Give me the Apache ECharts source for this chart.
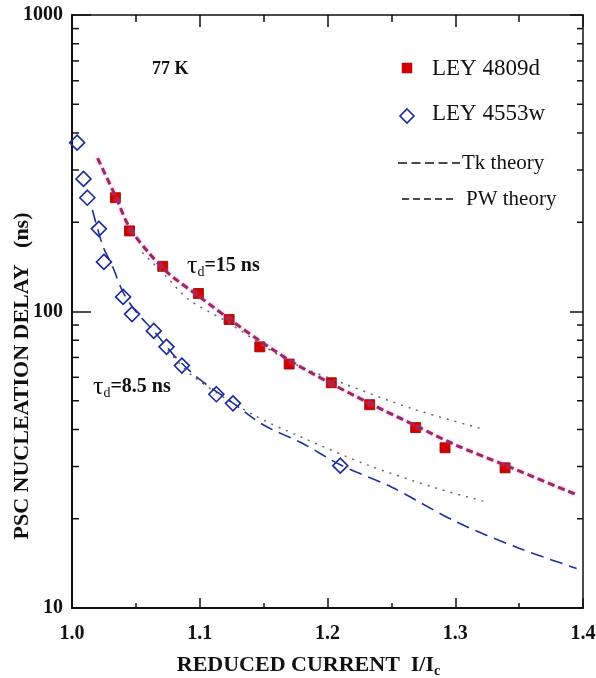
<!DOCTYPE html>
<html>
<head>
<meta charset="utf-8">
<script src="https://cdn.jsdelivr.net/npm/echarts@6/dist/echarts.min.js"></script>
<style>
  html, body { margin: 0; padding: 0; background: #fff; }
  #main { width: 596px; height: 678px; }
</style>
</head>
<body>
<div id="main"></div>
<script>
// measured points, LEY 4809d (filled squares)
var xRed = [1.034, 1.045, 1.071, 1.099, 1.123, 1.147, 1.170, 1.203, 1.233, 1.269, 1.292, 1.339];
var yRed = [242, 187, 142, 115, 94, 76, 66.5, 57.5, 48.5, 40.6, 34.7, 29.7];

// measured points, LEY 4553w (open diamonds)
var xBlue = [1.004, 1.009, 1.012, 1.021, 1.025, 1.040, 1.047, 1.064, 1.074, 1.086, 1.113, 1.126, 1.210];
var yBlue = [371, 280, 242, 190, 147, 112, 98, 86, 76, 65.7, 52.6, 49, 30.2];

// Tk theory curves
var tkRedX = [1.020, 1.034, 1.045, 1.060, 1.075, 1.100, 1.125, 1.150, 1.175, 1.200, 1.235, 1.270, 1.300, 1.340, 1.395];
var tkRedY = [329, 245, 192, 158, 135, 112, 93, 78, 66.5, 58, 48.5, 41, 35.5, 30.2, 24.1];
var tkBlueX = [1.016, 1.024, 1.032, 1.040, 1.050, 1.065, 1.080, 1.100, 1.125, 1.150, 1.180, 1.210, 1.250, 1.300, 1.350, 1.395];
var tkBlueY = [220, 167, 141, 116, 100, 85, 71, 59, 49.5, 41.4, 36, 30.4, 25.6, 19.6, 15.9, 13.6];

// PW theory curves
var pwRedX = [1.055, 1.074, 1.091, 1.120, 1.170, 1.212, 1.267, 1.322];
var pwRedY = [158, 131, 110, 93, 68, 57.3, 46.9, 40.1];
var pwBlueX = [1.075, 1.095, 1.142, 1.179, 1.231, 1.286, 1.326];
var pwBlueY = [74, 60.3, 44.8, 37.8, 30.4, 25.3, 22.7];

// log axis minor ticks
var minorY = [20, 30, 40, 50, 60, 70, 80, 90, 200, 300, 400, 500, 600, 700, 800, 900];

function pairs(xs, ys) {
    var out = [];
    for (var i = 0; i < xs.length; i++) out.push([xs[i], ys[i]]);
    return out;
}

var serif = '"Liberation Serif", "DejaVu Serif", serif';
var ink = '#111';

var option = {
    animation: false,
    backgroundColor: '#fff',
    grid: { left: 72, top: 15, right: 13, bottom: 70, containLabel: false, outerBoundsMode: 'none' },
    xAxis: [{
        type: 'value', min: 1.0, max: 1.4, interval: 0.1,
        name: '{a|REDUCED CURRENT  I/I}{b|c}',
        nameLocation: 'middle', nameGap: 44,
        nameTextStyle: {
            padding: [0, 38, 0, 0],
            rich: {
                a: { fontFamily: serif, fontWeight: 'bold', fontSize: 22, color: ink },
                b: { fontFamily: serif, fontWeight: 'bold', fontSize: 14, color: ink, padding: [12, 0, 0, 0] }
            }
        },
        axisLine: { lineStyle: { color: ink, width: 2 } },
        axisTick: { inside: true, length: 10, lineStyle: { color: ink, width: 1.5 } },
        minorTick: { show: true, splitNumber: 2, length: 5, lineStyle: { color: ink, width: 1.5 } },
        axisLabel: {
            margin: 16, fontFamily: serif, fontWeight: 'bold', fontSize: 20, color: ink,
            formatter: function (v) { return v.toFixed(1); }
        },
        splitLine: { show: false }
    }, {
        type: 'value', min: 1.0, max: 1.4, interval: 0.1, position: 'top',
        axisLine: { lineStyle: { color: ink, width: 1.5 } },
        axisTick: { inside: true, length: 12, lineStyle: { color: ink, width: 1.5 } },
        minorTick: { show: true, splitNumber: 2, length: 7, lineStyle: { color: ink, width: 1.5 } },
        axisLabel: { show: false },
        splitLine: { show: false }
    }],
    yAxis: [{
        type: 'log', logBase: 10, min: 10, max: 1000,
        axisLine: { show: true, lineStyle: { color: ink, width: 2 } },
        axisTick: { inside: true, length: 19, lineStyle: { color: ink, width: 1.5 } },
        axisLabel: {
            margin: 9, fontFamily: serif, fontWeight: 'bold', fontSize: 20, color: ink,
            formatter: function (v) { return String(Math.round(v)); }
        },
        splitLine: { show: false }
    }, {
        type: 'log', logBase: 10, min: 10, max: 1000, position: 'right',
        axisLine: { show: true, lineStyle: { color: ink, width: 1.5 } },
        axisTick: { inside: true, length: 13, lineStyle: { color: ink, width: 1.5 } },
        axisLabel: { show: false },
        splitLine: { show: false }
    }],
    series: [
        {
            type: 'custom',
            data: minorY.map(function (v) { return [1.0, v]; }),
            silent: true,
            renderItem: function (params, api) {
                var l = api.coord([1.0, api.value(1)]);
                var r = api.coord([1.4, api.value(1)]);
                var st = { stroke: ink, lineWidth: 1.5 };
                return {
                    type: 'group',
                    children: [
                        { type: 'line', shape: { x1: l[0], y1: l[1], x2: l[0] + 7, y2: l[1] }, style: st },
                        { type: 'line', shape: { x1: r[0] - 6, y1: r[1], x2: r[0], y2: r[1] }, style: st }
                    ]
                };
            }
        },
        {
            name: 'PW 4809d', type: 'line', data: pairs(pwRedX, pwRedY),
            smooth: 0.3, showSymbol: false,
            lineStyle: { color: '#666', width: 1.5, type: [2, 6] }
        },
        {
            name: 'PW 4553w', type: 'line', data: pairs(pwBlueX, pwBlueY),
            smooth: 0.3, showSymbol: false,
            lineStyle: { color: '#666', width: 1.5, type: [2, 6] }
        },
        {
            name: 'Tk 4809d', type: 'line', data: pairs(tkRedX, tkRedY),
            smooth: 0.3, showSymbol: false,
            lineStyle: { color: '#9a2866', width: 3, type: [7, 4], shadowColor: 'rgba(230,120,180,0.7)', shadowBlur: 3 }
        },
        {
            name: 'Tk 4553w', type: 'line', data: pairs(tkBlueX, tkBlueY),
            smooth: 0.3, showSymbol: false,
            lineStyle: { color: '#1f2fa0', width: 1.6, type: [13, 7] }
        },
        {
            name: 'LEY 4553w', type: 'scatter', data: pairs(xBlue, yBlue),
            symbol: 'diamond', symbolSize: 15,
            itemStyle: { color: 'rgba(255,255,255,0)', borderColor: '#1a2a9c', borderWidth: 1.6, opacity: 1 }
        },
        {
            name: 'LEY 4809d', type: 'scatter', data: pairs(xRed, yRed),
            symbol: 'rect', symbolSize: 10,
            itemStyle: { color: '#d40000', borderColor: '#8a0000', borderWidth: 0.8, opacity: 1 }
        }
    ],
    graphic: [
        {
            type: 'text', x: 22, y: 376, rotation: Math.PI / 2,
            style: {
                text: 'PSC NUCLEATION DELAY   (ns)', font: 'bold 22px ' + serif,
                fill: ink, align: 'center', verticalAlign: 'middle'
            }
        },
        {
            type: 'text', x: 152, y: 69,
            style: { text: '77 K', font: 'bold 18px ' + serif, fill: ink, align: 'left', verticalAlign: 'middle' }
        },
        {
            type: 'text', x: 187, y: 266,
            style: {
                text: '{t|τ}{s|d}{m|=15 ns}', align: 'left', verticalAlign: 'middle',
                rich: {
                    t: { fontFamily: serif, fontSize: 26, fill: ink },
                    s: { fontFamily: serif, fontSize: 14, fill: ink, padding: [12, 0, 0, 0] },
                    m: { fontFamily: serif, fontWeight: 'bold', fontSize: 20, fill: ink }
                }
            }
        },
        {
            type: 'text', x: 93, y: 387,
            style: {
                text: '{t|τ}{s|d}{m|=8.5 ns}', align: 'left', verticalAlign: 'middle',
                rich: {
                    t: { fontFamily: serif, fontSize: 26, fill: ink },
                    s: { fontFamily: serif, fontSize: 14, fill: ink, padding: [12, 0, 0, 0] },
                    m: { fontFamily: serif, fontWeight: 'bold', fontSize: 20, fill: ink }
                }
            }
        },
        // legend
        {
            type: 'rect', shape: { x: 402, y: 63, width: 10, height: 10 },
            style: { fill: '#d40000', stroke: '#b00000', lineWidth: 0.5 }
        },
        {
            type: 'text', x: 432, y: 69,
            style: { text: 'LEY 4809d', font: '23px ' + serif, fill: ink, align: 'left', verticalAlign: 'middle' }
        },
        {
            type: 'polygon', shape: { points: [[407, 109], [414, 116], [407, 123], [400, 116]] },
            style: { fill: 'none', stroke: '#1a2a9c', lineWidth: 1.6 }
        },
        {
            type: 'text', x: 432, y: 114,
            style: { text: 'LEY 4553w', font: '23px ' + serif, fill: ink, align: 'left', verticalAlign: 'middle' }
        },
        {
            type: 'line', shape: { x1: 398, y1: 163, x2: 460, y2: 163 },
            style: { stroke: ink, lineWidth: 1.5, lineDash: [9, 4.5] }
        },
        {
            type: 'text', x: 462, y: 163,
            style: { text: 'Tk theory', font: '21px ' + serif, fill: ink, align: 'left', verticalAlign: 'middle' }
        },
        {
            type: 'line', shape: { x1: 402, y1: 199, x2: 454, y2: 199 },
            style: { stroke: ink, lineWidth: 1.5, lineDash: [7, 4] }
        },
        {
            type: 'text', x: 466, y: 199,
            style: { text: 'PW theory', font: '21px ' + serif, fill: ink, align: 'left', verticalAlign: 'middle' }
        }
    ]
};

var myChart = echarts.init(document.getElementById('main'));
myChart.setOption(option);
</script>
</body>
</html>
